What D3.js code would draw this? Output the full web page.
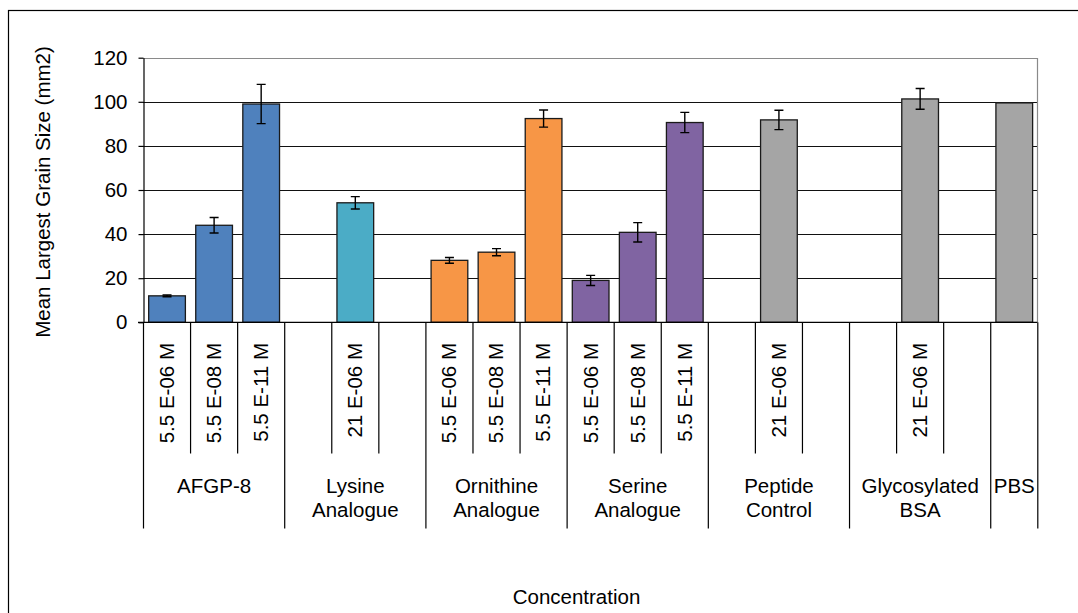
<!DOCTYPE html>
<html>
<head>
<meta charset="utf-8">
<script src="https://cdn.jsdelivr.net/npm/d3@7"></script>
<style>
  html, body { margin: 0; padding: 0; background: #fff; }
  svg { display: block; }
  text { font-family: "Liberation Sans", Arial, sans-serif; fill: #000; }
</style>
</head>
<body>
<svg id="chart" width="1078" height="613"></svg>
<script>
// Treatment groups and how many concentration slots each occupies on the axis
const groupNames = [["AFGP-8"], ["Lysine", "Analogue"], ["Ornithine", "Analogue"], ["Serine", "Analogue"], ["Peptide", "Control"], ["Glycosylated", "BSA"], ["PBS"]];
const groupSizes = [3, 3, 3, 3, 3, 3, 1];
const groupColors = ["#4F81BD", "#4BACC6", "#F79646", "#8064A2", "#A5A5A5", "#A5A5A5", "#A5A5A5"];

// One entry per slot along the category axis (blank slots carry no bar)
const concLabels = ["5.5 E-06 M", "5.5 E-08 M", "5.5 E-11 M", "", "21 E-06 M", "", "5.5 E-06 M", "5.5 E-08 M", "5.5 E-11 M", "5.5 E-06 M", "5.5 E-08 M", "5.5 E-11 M", "", "21 E-06 M", "", "", "21 E-06 M", "", ""];
const meanSize = [12, 44, 99, null, 54.2, null, 28.1, 31.8, 92.4, 19, 40.8, 90.6, null, 91.8, null, null, 101.3, null, 99.5];
const errSize = [0.4, 3.5, 8.9, null, 2.8, null, 1.3, 1.6, 3.9, 2.3, 4.4, 4.6, null, 4.4, null, null, 4.7, null, null];

const yTicks = [0, 20, 40, 60, 80, 100, 120];

const svg = d3.select("#chart");
const FONT = "20.5px";

// chart area border
svg.append("rect")
  .attr("x", 8.5).attr("y", 10.5)
  .attr("width", 1090).attr("height", 620)
  .attr("fill", "none").attr("stroke", "#000").attr("stroke-width", 1.2);

const plot = { left: 143, right: 1037.3, top: 57.7, bottom: 322.3 };

const slotIdx = d3.range(concLabels.length);
const x = d3.scaleBand().domain(slotIdx).range([plot.left, plot.right]).padding(0);
const y = d3.scaleLinear().domain([0, 120]).range([plot.bottom, plot.top]);

// slot -> group lookup
const slotGroup = [];
groupSizes.forEach((n, g) => { for (let k = 0; k < n; k++) slotGroup.push(g); });
const groupStart = groupSizes.map((n, g) => d3.sum(groupSizes.slice(0, g)));

// horizontal gridlines
svg.append("g").selectAll("line")
  .data(yTicks.filter(t => t > 0 && t < 120))
  .join("line")
  .attr("x1", plot.left).attr("x2", plot.right)
  .attr("y1", d => Math.round(y(d)) + 0.5).attr("y2", d => Math.round(y(d)) + 0.5)
  .attr("stroke", "#111").attr("stroke-width", 1);

// plot area frame (top and right)
svg.append("path")
  .attr("d", `M${plot.left},${Math.round(plot.top) + 0.5}H${Math.round(plot.right) + 0.5}V${plot.bottom}`)
  .attr("fill", "none").attr("stroke", "#8a8a8a").attr("stroke-width", 1.2);

// bars
const barW = x.bandwidth() * 0.78;
const barData = slotIdx.filter(i => meanSize[i] != null);
svg.append("g").selectAll("rect")
  .data(barData)
  .join("rect")
  .attr("x", i => x(i) + (x.bandwidth() - barW) / 2 + 0.5)
  .attr("y", i => y(meanSize[i]))
  .attr("width", barW)
  .attr("height", i => y(0) - y(meanSize[i]))
  .attr("fill", i => groupColors[slotGroup[i]])
  .attr("stroke", "#1a1a1a").attr("stroke-width", 1.3);

// error bars
const capW = 9;
const eb = svg.append("g").attr("stroke", "#000").attr("stroke-width", 1.4).attr("fill", "none");
barData.filter(i => errSize[i] != null).forEach(i => {
  const cx = x(i) + x.bandwidth() / 2 + 0.5;
  const hi = y(meanSize[i] + errSize[i]);
  const lo = y(meanSize[i] - errSize[i]);
  eb.append("path")
    .attr("d", `M${cx},${hi}V${lo}M${cx - capW / 2},${hi}H${cx + capW / 2}M${cx - capW / 2},${lo}H${cx + capW / 2}`);
});

// y axis
const yAxis = svg.append("g")
  .attr("transform", `translate(${plot.left + 0.5},0)`)
  .call(d3.axisLeft(y).tickValues(yTicks).tickSize(5).tickPadding(11).tickSizeOuter(0));
yAxis.select(".domain").attr("stroke", "#000").attr("stroke-width", 1.2);
yAxis.selectAll(".tick line").attr("stroke", "#000").attr("stroke-width", 1.2);
yAxis.selectAll(".tick text").style("font-size", FONT).style("font-family", '"Liberation Sans", Arial, sans-serif').attr("fill", "#000");

// baseline of the category axis
svg.append("line")
  .attr("x1", plot.left - 5).attr("x2", plot.right)
  .attr("y1", plot.bottom).attr("y2", plot.bottom)
  .attr("stroke", "#000").attr("stroke-width", 1.3);

// category separators: long ones between groups, short ones between concentrations
const subBottom = 453.5, groupBottom = 528.5;
const boundaries = d3.range(concLabels.length + 1);
const groupEdges = new Set(groupStart.concat([concLabels.length]));
svg.append("g").selectAll("line")
  .data(boundaries)
  .join("line")
  .attr("x1", b => (b < concLabels.length ? x(b) : plot.right) + 0.5)
  .attr("x2", b => (b < concLabels.length ? x(b) : plot.right) + 0.5)
  .attr("y1", plot.bottom)
  .attr("y2", b => groupEdges.has(b) ? groupBottom : subBottom)
  .attr("stroke", "#000").attr("stroke-width", 1.2);

// concentration labels (rotated)
svg.append("g").selectAll("text")
  .data(slotIdx.filter(i => concLabels[i]))
  .join("text")
  .attr("transform", i => `translate(${x(i) + x.bandwidth() / 2},343) rotate(-90)`)
  .attr("text-anchor", "end")
  .attr("dy", "0.36em")
  .style("font-size", FONT)
  .text(i => concLabels[i]);

// group labels
const gl = svg.append("g").selectAll("text")
  .data(groupNames.map((lines, g) => ({ lines, g })))
  .join("text")
  .attr("text-anchor", "middle")
  .style("font-size", FONT);
gl.each(function (d) {
  const x0 = x(groupStart[d.g]);
  const x1 = groupStart[d.g] + groupSizes[d.g] < concLabels.length ? x(groupStart[d.g] + groupSizes[d.g]) : plot.right;
  const cx = (x0 + x1) / 2 + 0.5;
  d3.select(this).selectAll("tspan")
    .data(d.lines)
    .join("tspan")
    .attr("x", cx)
    .attr("y", (s, k) => 493 + k * 23.5)
    .text(s => s);
});

// axis titles
svg.append("text")
  .attr("transform", "translate(43,192) rotate(-90)")
  .attr("text-anchor", "middle")
  .attr("dy", "0.36em")
  .style("font-size", FONT)
  .text("Mean Largest Grain Size (mm2)");

svg.append("text")
  .attr("x", 576.5).attr("y", 604)
  .attr("text-anchor", "middle")
  .style("font-size", FONT)
  .text("Concentration");
</script>
</body>
</html>
